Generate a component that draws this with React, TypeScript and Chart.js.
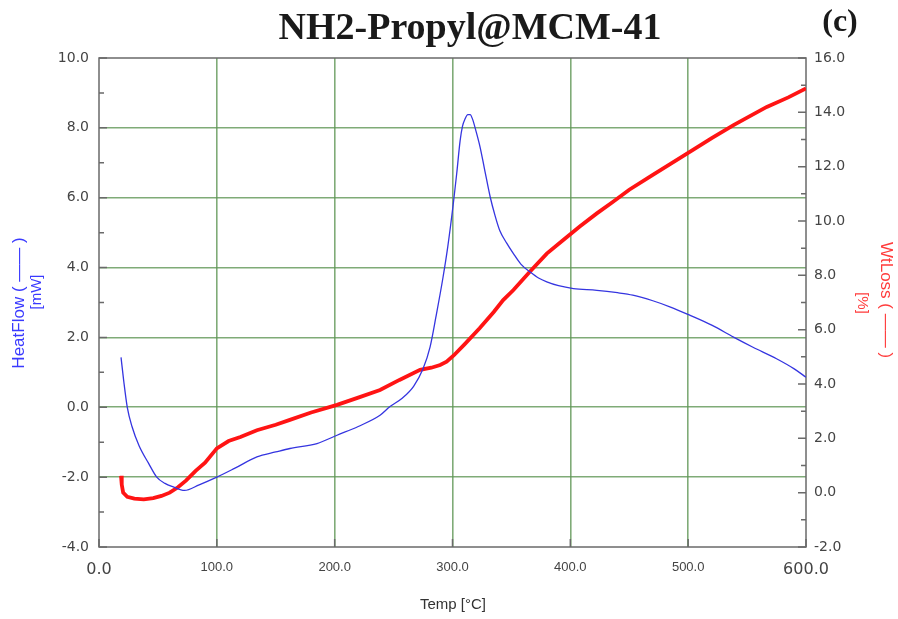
import React, { useEffect, useRef } from "react";
import { Chart, registerables } from "chart.js";

Chart.register(...registerables);

// ---- Data ----
const heatTemp = [18.7, 21, 24, 28, 34, 42, 49, 56, 63, 72.5, 85, 100, 115, 134, 150, 162, 185, 202, 220, 238.5, 247, 257, 267, 275, 281, 286, 292, 296, 301, 303.6, 306.5, 308.5, 310.7, 313, 315, 317, 320, 323.4, 327, 332, 336, 340, 346, 351.7, 358, 366, 373, 380, 390, 402.6, 422.5, 440, 453, 470, 485, 501.7, 520, 538.5, 555, 575, 590, 600];
const heatFlow = [1.43, 0.75, 0.0, -0.55, -1.1, -1.6, -2.0, -2.18, -2.28, -2.38, -2.22, -2.0, -1.75, -1.42, -1.28, -1.18, -1.04, -0.8, -0.55, -0.23, 0.02, 0.25, 0.6, 1.1, 1.73, 2.6, 3.73, 4.6, 5.92, 6.7, 7.64, 8.05, 8.26, 8.38, 8.38, 8.25, 7.9, 7.45, 6.85, 6.02, 5.5, 5.07, 4.7, 4.4, 4.1, 3.87, 3.7, 3.59, 3.48, 3.4, 3.35, 3.28, 3.21, 3.05, 2.87, 2.63, 2.35, 2.01, 1.72, 1.39, 1.1, 0.86];

const lossTemp = [18.7, 19.3, 20.5, 24, 30, 38, 46, 53, 60, 67, 74, 82, 90, 100, 110, 120, 134, 150, 162, 180, 202, 220, 238.5, 255, 272.5, 282, 289.5, 295, 301, 310, 323, 335, 343, 351.7, 366, 380, 394, 408, 422.5, 436, 450, 470, 485, 501.7, 520, 538.5, 552, 566.7, 585, 600];
const wtLoss = [0.62, 0.3, 0.0, -0.15, -0.22, -0.25, -0.2, -0.12, 0.0, 0.2, 0.45, 0.8, 1.1, 1.63, 1.9, 2.05, 2.3, 2.5, 2.68, 2.95, 3.23, 3.5, 3.78, 4.15, 4.52, 4.6, 4.7, 4.82, 5.05, 5.45, 6.05, 6.65, 7.09, 7.46, 8.15, 8.8, 9.3, 9.8, 10.28, 10.7, 11.15, 11.7, 12.1, 12.55, 13.05, 13.53, 13.85, 14.2, 14.55, 14.88];

const xTickValues = [0, 100, 200, 300, 400, 500, 600];
const leftTickValues = [-4, -2, 0, 2, 4, 6, 8, 10];
const rightTickValues = [-2, 0, 2, 4, 6, 8, 10, 12, 14, 16];

const titleText = "NH2-Propyl@MCM-41";
const panelText = "(c)";
const xTitle = "Temp [°C]";
const leftTitle = "HeatFlow ( —— )";
const leftUnit = "[mW]";
const rightTitle = "WtLoss ( —— )";
const rightUnit = "[%]";

const GRID = "rgba(95,150,85,0.8)";
const FRAME = "#6a6a6a";

const framePlugin = {
  id: "frameAndLabels",
  beforeDatasetsDraw(chart: any) {
    const { ctx, chartArea } = chart;
    const { left, right, top, bottom } = chartArea;
    const x = chart.scales.x;
    const y = chart.scales.y;
    const y1 = chart.scales.y1;
    ctx.save();
    ctx.strokeStyle = FRAME;
    ctx.lineWidth = 1.5;
    ctx.beginPath();
    for (let v = -4; v <= 10; v += 1) {
      const py = y.getPixelForValue(v);
      const len = v % 2 === 0 ? 8 : 5;
      ctx.moveTo(left, py);
      ctx.lineTo(left + len, py);
    }
    for (let v = -2; v <= 16; v += 1) {
      const py = y1.getPixelForValue(v);
      const len = v % 2 === 0 ? 8 : 5;
      ctx.moveTo(right, py);
      ctx.lineTo(right - len, py);
    }
    for (const v of xTickValues) {
      const px = x.getPixelForValue(v);
      ctx.moveTo(px, bottom);
      ctx.lineTo(px, bottom - 8);
    }
    ctx.stroke();
    ctx.strokeRect(left, top, right - left, bottom - top);
    ctx.restore();
  },
  afterDraw(chart: any) {
    const { ctx } = chart;
    ctx.save();
    ctx.fillStyle = "#1a1a1a";
    ctx.textAlign = "center";
    ctx.textBaseline = "middle";
    ctx.font = "bold 38px 'Liberation Serif', 'Times New Roman', serif";
    ctx.fillText(titleText, 470, 29);
    ctx.font = "bold 32px 'Liberation Serif', 'Times New Roman', serif";
    ctx.fillText(panelText, 840, 23);

    ctx.fillStyle = "#333";
    ctx.font = "15px 'Liberation Sans', Arial, sans-serif";
    ctx.fillText(xTitle, 453, 605);

    ctx.fillStyle = "#3a3aff";
    ctx.font = "17px 'Liberation Sans', Arial, sans-serif";
    ctx.save();
    ctx.translate(19, 303);
    ctx.rotate(-Math.PI / 2);
    ctx.fillText(leftTitle, 0, 0);
    ctx.restore();
    ctx.font = "15px 'Liberation Sans', Arial, sans-serif";
    ctx.save();
    ctx.translate(37, 292);
    ctx.rotate(-Math.PI / 2);
    ctx.fillText(leftUnit, 0, 0);
    ctx.restore();

    ctx.fillStyle = "#ff3b3b";
    ctx.font = "17px 'Liberation Sans', Arial, sans-serif";
    ctx.save();
    ctx.translate(886, 300);
    ctx.rotate(Math.PI / 2);
    ctx.fillText(rightTitle, 0, 0);
    ctx.restore();
    ctx.font = "15px 'Liberation Sans', Arial, sans-serif";
    ctx.save();
    ctx.translate(862, 303);
    ctx.rotate(Math.PI / 2);
    ctx.fillText(rightUnit, 0, 0);
    ctx.restore();
    ctx.restore();
  },
};

export default function App() {
  const canvasRef = useRef<HTMLCanvasElement | null>(null);

  useEffect(() => {
    const canvas = canvasRef.current;
    if (!canvas) return;
    const heatData = heatTemp.map((t, i) => ({ x: t, y: heatFlow[i] }));
    const lossData = lossTemp.map((t, i) => ({ x: t, y: wtLoss[i] }));

    const chart = new Chart(canvas, {
      type: "line",
      data: {
        datasets: [
          {
            label: "WtLoss",
            data: lossData,
            yAxisID: "y1",
            borderColor: "#ff1414",
            borderWidth: 3.8,
            pointRadius: 0,
            tension: 0,
            order: 2,
          },
          {
            label: "HeatFlow",
            data: heatData,
            yAxisID: "y",
            borderColor: "#3535e0",
            borderWidth: 1.3,
            pointRadius: 0,
            cubicInterpolationMode: "monotone",
            order: 1,
          },
        ],
      },
      options: {
        animation: false,
        responsive: false,
        maintainAspectRatio: false,
        layout: { padding: { top: 58, left: 0, right: 0, bottom: 0 } },
        plugins: {
          legend: { display: false },
          tooltip: { enabled: false },
          title: { display: false },
        },
        scales: {
          x: {
            type: "linear",
            min: 0,
            max: 600,
            afterBuildTicks: (s: any) => {
              s.ticks = xTickValues.map((v) => ({ value: v }));
            },
            afterFit: (s: any) => {
              s.height = 72;
            },
            ticks: {
              callback: (v: any) => Number(v).toFixed(1),
              color: "#444",
              padding: 13,
              maxRotation: 0,
              autoSkip: false,
              font: (c: any) =>
                c.index === 0 || c.index === xTickValues.length - 1
                  ? { family: "'DejaVu Sans', sans-serif", size: 16 }
                  : { family: "'Liberation Sans', Arial, sans-serif", size: 13 },
            },
            grid: {
              color: (c: any) =>
                c.tick && (c.tick.value === 0 || c.tick.value === 600) ? "rgba(0,0,0,0)" : GRID,
              lineWidth: 1.6,
              drawTicks: false,
            },
            border: { display: false },
          },
          y: {
            type: "linear",
            position: "left",
            min: -4,
            max: 10,
            afterBuildTicks: (s: any) => {
              s.ticks = leftTickValues.map((v) => ({ value: v }));
            },
            afterFit: (s: any) => {
              s.width = 99;
            },
            ticks: {
              callback: (v: any) => Number(v).toFixed(1),
              color: "#444",
              padding: 10,
              font: { family: "'DejaVu Sans', sans-serif", size: 14 },
            },
            grid: {
              color: (c: any) =>
                c.tick && (c.tick.value === -4 || c.tick.value === 10) ? "rgba(0,0,0,0)" : GRID,
              lineWidth: 1.6,
              drawTicks: false,
            },
            border: { display: false },
          },
          y1: {
            type: "linear",
            position: "right",
            min: -2,
            max: 16,
            afterBuildTicks: (s: any) => {
              s.ticks = rightTickValues.map((v) => ({ value: v }));
            },
            afterFit: (s: any) => {
              s.width = 92;
            },
            ticks: {
              callback: (v: any) => Number(v).toFixed(1),
              color: "#444",
              padding: 8,
              font: { family: "'DejaVu Sans', sans-serif", size: 14 },
            },
            grid: { drawOnChartArea: false, drawTicks: false },
            border: { display: false },
          },
        },
      },
      plugins: [framePlugin],
    } as any);

    return () => chart.destroy();
  }, []);

  return (
    <div style={{ position: "absolute", left: 0, top: 0, width: 898, height: 619, background: "#fff" }}>
      <canvas ref={canvasRef} width={898} height={619} style={{ display: "block", width: 898, height: 619 }} />
    </div>
  );
}
